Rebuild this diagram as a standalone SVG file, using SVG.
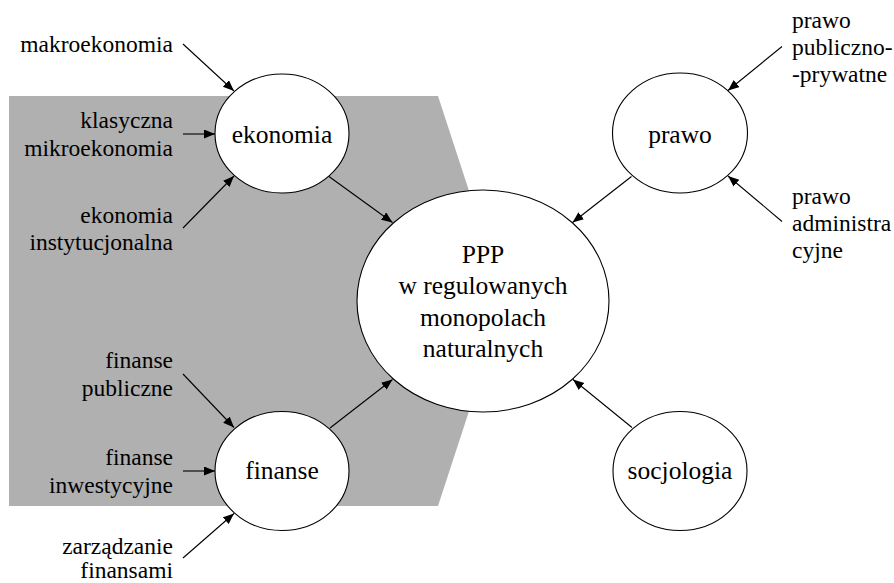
<svg xmlns="http://www.w3.org/2000/svg" width="894" height="583" viewBox="0 0 894 583">
<defs>
<marker id="ah" markerUnits="userSpaceOnUse" markerWidth="12" markerHeight="10" refX="11" refY="4.5" orient="auto">
<path d="M0,0 L11,4.5 L0,9 z" fill="#000"/>
</marker>
</defs>
<rect width="894" height="583" fill="#fff"/>
<polygon id="bg" points="9,96 438,96 505,301 438,506 9,506" fill="#b0b0b0"/>
<g id="labels" font-size="23.5" fill="#000">
<text x="173" y="52" text-anchor="end" font-family="Liberation Serif, Times New Roman, serif">makroekonomia</text>
<text x="173" y="128" text-anchor="end" font-family="Liberation Serif, Times New Roman, serif">klasyczna</text>
<text x="173" y="156" text-anchor="end" font-family="Liberation Serif, Times New Roman, serif">mikroekonomia</text>
<text x="173" y="222.5" text-anchor="end" font-family="Liberation Serif, Times New Roman, serif">ekonomia</text>
<text x="173" y="250" text-anchor="end" font-family="Liberation Serif, Times New Roman, serif">instytucjonalna</text>
<text x="173" y="367.5" text-anchor="end" font-family="Liberation Serif, Times New Roman, serif">finanse</text>
<text x="173" y="396" text-anchor="end" font-family="Liberation Serif, Times New Roman, serif">publiczne</text>
<text x="173" y="464.5" text-anchor="end" font-family="Liberation Serif, Times New Roman, serif">finanse</text>
<text x="173" y="492.5" text-anchor="end" font-family="Liberation Serif, Times New Roman, serif">inwestycyjne</text>
<text x="173" y="553.5" text-anchor="end" font-family="Liberation Serif, Times New Roman, serif">zarządzanie</text>
<text x="173" y="578" text-anchor="end" font-family="Liberation Serif, Times New Roman, serif">finansami</text>
<text x="792" y="28" font-family="Liberation Serif, Times New Roman, serif">prawo</text>
<text x="792" y="55" font-family="Liberation Serif, Times New Roman, serif">publiczno-</text>
<text x="792" y="82" font-family="Liberation Serif, Times New Roman, serif">-prywatne</text>
<text x="792" y="204" font-family="Liberation Serif, Times New Roman, serif">prawo</text>
<text x="792" y="231" font-family="Liberation Serif, Times New Roman, serif">administra</text>
<text x="792" y="258" font-family="Liberation Serif, Times New Roman, serif">cyjne</text>
</g>
<g id="connectors" stroke="#000" stroke-width="1.1" marker-end="url(#ah)">
<line x1="183" y1="44" x2="234" y2="91"/>
<line x1="183" y1="134" x2="215" y2="134"/>
<line x1="183" y1="228" x2="234" y2="176"/>
<line x1="329" y1="176.5" x2="392.5" y2="222.5"/>
<line x1="183" y1="374" x2="234" y2="427.5"/>
<line x1="183" y1="471" x2="215" y2="471"/>
<line x1="183" y1="558" x2="234" y2="513.5"/>
<line x1="330" y1="428" x2="392.5" y2="379.5"/>
<line x1="631.5" y1="176.5" x2="572.5" y2="222.5"/>
<line x1="782" y1="46.5" x2="728" y2="90.5"/>
<line x1="782" y1="221.5" x2="728" y2="176"/>
<line x1="632" y1="427.5" x2="573" y2="379.5"/>
</g>
<g id="nodes" font-size="25.5" text-anchor="middle">
<g id="ekonomia">
<ellipse cx="282" cy="133.5" rx="67" ry="59.5" fill="#fff" stroke="#000" stroke-width="1.1"/>
<text x="282" y="142.5" fill="#000" font-family="Liberation Serif, Times New Roman, serif">ekonomia</text>
</g>
<g id="finanse">
<ellipse cx="282" cy="471" rx="67" ry="59.5" fill="#fff" stroke="#000" stroke-width="1.1"/>
<text x="282" y="479" fill="#000" font-family="Liberation Serif, Times New Roman, serif">finanse</text>
</g>
<g id="prawo">
<ellipse cx="680" cy="133" rx="67.5" ry="60" fill="#fff" stroke="#000" stroke-width="1.1"/>
<text x="680" y="143" fill="#000" font-family="Liberation Serif, Times New Roman, serif">prawo</text>
</g>
<g id="socjologia">
<ellipse cx="680" cy="471" rx="67" ry="59.5" fill="#fff" stroke="#000" stroke-width="1.1"/>
<text x="680" y="479" fill="#000" font-family="Liberation Serif, Times New Roman, serif">socjologia</text>
</g>
<g id="ppp">
<ellipse cx="483" cy="301" rx="126" ry="111" fill="#fff" stroke="#000" stroke-width="1.1"/>
<text x="483" y="263" fill="#000" font-family="Liberation Serif, Times New Roman, serif">PPP</text>
<text x="483" y="294" fill="#000" font-family="Liberation Serif, Times New Roman, serif">w regulowanych</text>
<text x="483" y="325.5" fill="#000" font-family="Liberation Serif, Times New Roman, serif">monopolach</text>
<text x="483" y="357" fill="#000" font-family="Liberation Serif, Times New Roman, serif">naturalnych</text>
</g>
</g>
</svg>
